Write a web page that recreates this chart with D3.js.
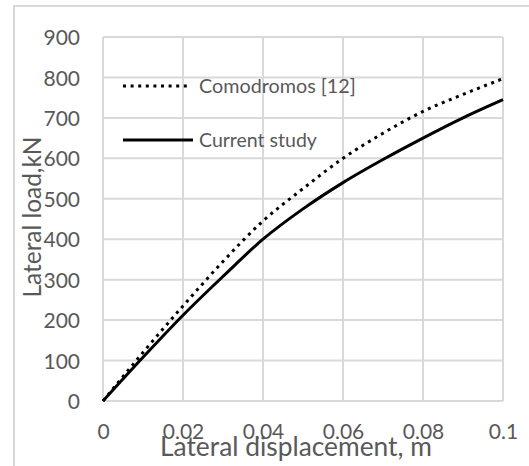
<!DOCTYPE html>
<html><head><meta charset="utf-8">
<script src="https://cdn.jsdelivr.net/npm/d3@7"></script>
<style>body{margin:0;background:#fff}svg{display:block}</style>
</head><body>
<script>
// ---- data ----
const displacement = [0, 0.01, 0.02, 0.03, 0.04, 0.05, 0.06, 0.07, 0.08, 0.09, 0.1];
const currentStudy = [0, 108, 212, 308, 400, 475, 540, 597, 650, 700, 745];
const comodromos   = [0, 120, 235, 345, 445, 525, 600, 662, 716, 758, 797];
const xTicks = [0, 0.02, 0.04, 0.06, 0.08, 0.1];
const yTicks = [0, 100, 200, 300, 400, 500, 600, 700, 800, 900];
const seriesNames = ["Comodromos [12]", "Current study"];
const xTitle = "Lateral displacement, m";
const yTitle = "Lateral load,kN";

// ---- layout ----
const W = 529, H = 466;
const FONT = "Lato, 'Open Sans', sans-serif";
const TXT = "#595959", GRID = "#d9d9d9";
const svg = d3.select("body").append("svg").attr("width", W).attr("height", H);

svg.append("rect").attr("x", 14).attr("y", 6).attr("width", 600).attr("height", 600)
  .attr("fill", "none").attr("stroke", GRID).attr("stroke-width", 2);

const x = d3.scaleLinear().domain([0, 0.1]).range([103, 503]);
const y = d3.scaleLinear().domain([0, 900]).range([401, 37]);

function fit(sel, target, base) {
  sel.attr("font-size", base);
  const w = sel.node().getComputedTextLength();
  sel.attr("font-size", (base * target / w).toFixed(2));
}

// grid
const g = svg.append("g");
g.selectAll(".hy").data(yTicks).join("line")
  .attr("x1", x(0)).attr("x2", x(0.1)).attr("y1", d => y(d)).attr("y2", d => y(d))
  .attr("stroke", GRID).attr("stroke-width", 2);
g.selectAll(".vx").data(xTicks).join("line")
  .attr("y1", y(0)).attr("y2", y(900)).attr("x1", d => x(d)).attr("x2", d => x(d))
  .attr("stroke", GRID).attr("stroke-width", 2);

// axes via d3 axes (labels only)
const yAxis = svg.append("g").attr("transform", `translate(${x(0)},0)`)
  .call(d3.axisLeft(y).tickValues(yTicks).tickSize(0).tickPadding(23).tickFormat(d3.format("d")));
yAxis.select(".domain").remove();
yAxis.selectAll("text").attr("fill", TXT).attr("font-family", FONT).attr("font-size", 21).attr("dy", "0.36em");

const xAxis = svg.append("g").attr("transform", `translate(0,${y(0)})`)
  .call(d3.axisBottom(x).tickValues(xTicks).tickSize(0).tickPadding(23).tickFormat(d => d === 0 ? "0" : String(d)));
xAxis.select(".domain").remove();
xAxis.selectAll("text").attr("fill", TXT).attr("font-family", FONT).attr("font-size", 21).attr("dy", "0.71em");

// titles
const xt = svg.append("text").text(xTitle).attr("x", 296).attr("y", 456)
  .attr("text-anchor", "middle").attr("fill", TXT).attr("font-family", FONT);
fit(xt, 272, 22);
const yt = svg.append("text").text(yTitle)
  .attr("transform", "translate(41,217) rotate(-90)")
  .attr("text-anchor", "middle").attr("fill", TXT).attr("font-family", FONT);
fit(yt, 161, 22);

// lines
const pts = vals => displacement.map((d, i) => [d, vals[i]]);
const line = d3.line().x(d => x(d[0])).y(d => y(d[1])).curve(d3.curveMonotoneX);
svg.append("path").attr("d", line(pts(comodromos))).attr("fill", "none")
  .attr("stroke", "#000").attr("stroke-width", 3).attr("stroke-dasharray", "3 4.6");
svg.append("path").attr("d", line(pts(currentStudy))).attr("fill", "none")
  .attr("stroke", "#000").attr("stroke-width", 3);

// legend
const lg = svg.append("g");
lg.append("line").attr("x1", 123).attr("x2", 190).attr("y1", 86).attr("y2", 86)
  .attr("stroke", "#000").attr("stroke-width", 3).attr("stroke-dasharray", "3 4.6");
lg.append("line").attr("x1", 123).attr("x2", 193).attr("y1", 140).attr("y2", 140)
  .attr("stroke", "#000").attr("stroke-width", 3);
const l1 = lg.append("text").text(seriesNames[0]).attr("x", 199).attr("y", 86).attr("dy", "0.35em")
  .attr("fill", TXT).attr("font-family", FONT);
fit(l1, 157, 19);
const l2 = lg.append("text").text(seriesNames[1]).attr("x", 199).attr("y", 140).attr("dy", "0.35em")
  .attr("fill", TXT).attr("font-family", FONT);
fit(l2, 118, 19);
</script>
</body></html>
